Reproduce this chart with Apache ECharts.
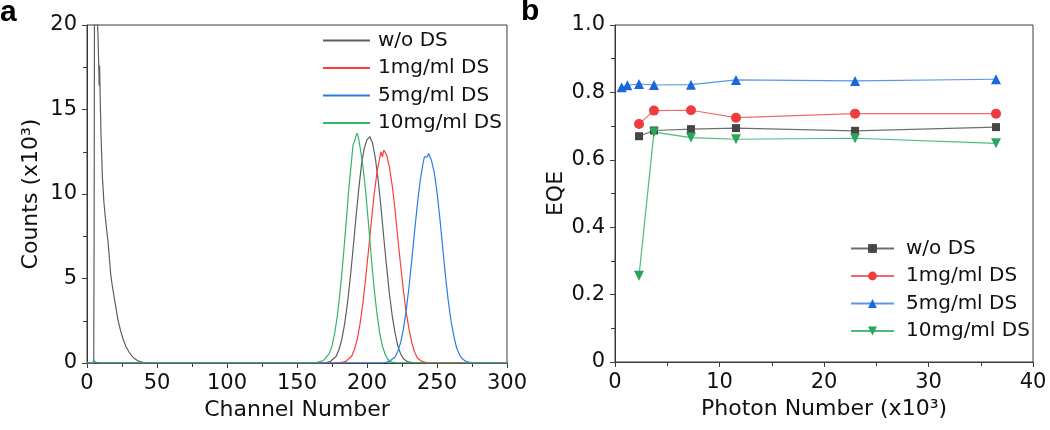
<!DOCTYPE html>
<html>
<head>
<meta charset="utf-8">
<script src="https://cdn.jsdelivr.net/npm/echarts@6/dist/echarts.min.js"></script>
<style>html,body{margin:0;padding:0;background:#fff;}#c{width:1050px;height:430px;}</style>
</head>
<body>
<div id="c"></div>
<script>
// ---------- Panel a: pulse height spectra (counts in x10^3) ----------
const seriesNames = ['w/o DS', '1mg/ml DS', '5mg/ml DS', '10mg/ml DS'];

const grayChannel = [0,4.8,5.1,5.4,6.8,7.8,8.4,8.7,9.0,9.4,10,11,12,13,14,15,16,17,18,20,22,24,26,28,30,32,34,36,38,40,44,48,
  170,174,178,180,182,184,186,188,190,192,194,196,198,200,202,204,206,208,210,212,214,216,218,220,222,224,226,229,234,300];
const grayCounts = [0,0,8,24,24,19.5,17.6,16.4,17.6,15.8,13.5,11.0,9.6,8.7,7.9,7.2,6.2,5.2,4.6,3.6,2.6,1.9,1.35,0.95,0.65,0.42,0.26,0.15,0.08,0.04,0.01,0,
  0,0.1,0.4,0.8,1.4,2.3,3.5,5.0,6.7,8.5,10.2,11.7,12.7,13.2,13.4,13.0,12.1,10.8,9.2,7.4,5.7,4.1,2.8,1.8,1.0,0.55,0.25,0.08,0,0];

const redChannel = [0,4,5,7,10,180,185,189,191,193,195,197,199,201,203,205,207,209,210,211,212,213,214,216,218,220,222,224,226,228,230,232,234,236,239,244,300];
const redCounts  = [0,0,0.1,0.03,0,0,0.1,0.4,0.8,1.4,2.3,3.5,5.0,6.6,8.3,9.9,11.2,12.1,12.5,12.2,12.6,12.7,12.3,11.6,10.5,9.1,7.4,5.8,4.3,3.0,2.0,1.2,0.65,0.3,0.1,0,0];

const blueChannel = [0,4,5,7,10,212,216,220,222,224,226,228,230,232,234,236,238,240,241,242,243,244,245,246,248,250,252,254,256,258,260,262,264,266,268,271,276,300];
const blueCounts  = [0,0,0.12,0.03,0,0,0.1,0.35,0.7,1.2,2.0,3.1,4.5,6.1,7.8,9.4,10.8,11.8,12.2,12.3,12.2,12.4,12.3,12.0,11.3,10.1,8.6,6.9,5.2,3.7,2.5,1.6,0.9,0.5,0.25,0.08,0,0];

const greenChannel = [0,4,5,7,10,160,165,169,173,175,177,179,181,183,185,187,189,190,191,192,193,194,195,197,199,201,203,205,207,209,211,213,215,218,222,300];
const greenCounts  = [0,0,0.1,0.03,0,0,0.05,0.15,0.55,1.0,1.8,2.9,4.4,6.2,8.2,10.3,12.0,12.9,13.1,13.4,13.6,13.3,12.8,11.7,10.2,8.3,6.3,4.5,3.0,1.8,1.0,0.5,0.2,0.05,0,0];

// ---------- Panel b: EQE vs photon number (x10^3) ----------
const grayPhoton  = [2.3, 3.73, 7.27, 11.58, 22.97, 36.46];
const grayEQE     = [0.670, 0.687, 0.691, 0.694, 0.686, 0.697];
const redPhoton   = [2.3, 3.73, 7.27, 11.58, 22.97, 36.46];
const redEQE      = [0.706, 0.746, 0.747, 0.725, 0.737, 0.737];
const bluePhoton  = [0.64, 1.18, 2.3, 3.73, 7.27, 11.58, 22.97, 36.46];
const blueEQE     = [0.815, 0.821, 0.825, 0.822, 0.823, 0.837, 0.834, 0.839];
const greenPhoton = [2.3, 3.73, 7.27, 11.58, 22.97, 36.46];
const greenEQE    = [0.256, 0.682, 0.666, 0.661, 0.664, 0.649];

// ---------- build ----------
const zip = (xs, ys) => xs.map((x, i) => [x, ys[i]]);
const FONT = '"DejaVu Sans", "Liberation Sans", Arial, sans-serif';
const axisCol = '#3a3a3a';

const specColors = ['#5e5e5e', '#ff3c3c', '#2d7ce6', '#35b36b'];
const lineColorsB = ['#6e6e6e', '#f26a6a', '#5b95ea', '#4dbb7b'];
const markColorsB = ['#454545', '#f03c3c', '#1a66dd', '#2aa55a'];
const symbolsB = ['rect', 'circle', 'triangle', 'triangle'];
const symSizeB = [8, 10, 10, 10];
const symRotB = [0, 0, 0, 180];

const specData = [zip(grayChannel, grayCounts), zip(redChannel, redCounts), zip(blueChannel, blueCounts), zip(greenChannel, greenCounts)];
const eqeData = [zip(grayPhoton, grayEQE), zip(redPhoton, redEQE), zip(bluePhoton, blueEQE), zip(greenPhoton, greenEQE)];
const namesB = seriesNames.map(n => n + ' ');

function valueAxis(gi, min, max, interval, fmt, extra) {
  return Object.assign({
    type: 'value', gridIndex: gi, min, max, interval,
    axisLine: { show: true, onZero: false, lineStyle: { color: axisCol, width: 1 } },
    axisTick: { show: true, inside: false, length: 5, lineStyle: { color: axisCol } },
    minorTick: { show: true, splitNumber: 2, length: 4, lineStyle: { color: axisCol } },
    splitLine: { show: false },
    axisLabel: { color: '#111', fontSize: 21, fontFamily: FONT, formatter: fmt, margin: 10 },
    nameTextStyle: { color: '#111', fontSize: 22, fontFamily: FONT },
    nameLocation: 'middle'
  }, extra);
}

const series = [];
specData.forEach((d, i) => series.push({
  type: 'line', name: seriesNames[i], xAxisIndex: 0, yAxisIndex: 0, data: d,
  showSymbol: false, symbol: 'none', clip: true, animation: false,
  lineStyle: { color: specColors[i], width: 1.2 }, itemStyle: { color: specColors[i] }
}));
eqeData.forEach((d, i) => series.push({
  type: 'line', name: namesB[i], xAxisIndex: 1, yAxisIndex: 1, data: d,
  symbol: symbolsB[i], symbolSize: symSizeB[i], symbolRotate: symRotB[i], animation: false,
  lineStyle: { color: lineColorsB[i], width: 1.2 }, itemStyle: { color: markColorsB[i] }
}));

const option = {
  backgroundColor: '#fff',
  animation: false,
  textStyle: { fontFamily: FONT },
  title: [
    { text: 'a', left: 0, top: -2, padding: 0, textStyle: { fontSize: 30, fontWeight: 'bold', color: '#000', fontFamily: '"Liberation Sans", Arial, sans-serif' } },
    { text: 'b', left: 521, top: -3, padding: 0, textStyle: { fontSize: 30, fontWeight: 'bold', color: '#000', fontFamily: '"Liberation Sans", Arial, sans-serif' } }
  ],
  grid: [
    { left: 87, top: 25, width: 420, height: 338, show: true, borderColor: axisCol, borderWidth: 1, backgroundColor: 'transparent' },
    { left: 615, top: 25, width: 418, height: 337, show: true, borderColor: axisCol, borderWidth: 1, backgroundColor: 'transparent' }
  ],
  xAxis: [
    valueAxis(0, 0, 300, 50, v => String(v), { name: 'Channel Number', nameGap: 35 }),
    valueAxis(1, 0, 40, 10, v => String(v), { name: 'Photon Number (x10³)', nameGap: 35 })
  ],
  yAxis: [
    valueAxis(0, 0, 20, 5, v => String(v), { name: 'Counts (x10³)', nameGap: 45 }),
    valueAxis(1, 0, 1, 0.2, v => (v === 0 ? '0' : v.toFixed(1)), { name: 'EQE', nameGap: 39 })
  ],
  legend: [
    {
      data: seriesNames, orient: 'vertical', left: 318, top: 25,
      itemWidth: 47, itemHeight: 2, itemGap: 6.5, icon: 'rect',
      textStyle: { fontSize: 20, color: '#111', fontFamily: FONT, lineHeight: 21, padding: [0, 0, 0, 3] },
      selectedMode: false
    },
    {
      data: namesB, orient: 'vertical', left: 845, top: 233,
      itemWidth: 43, itemHeight: 11, itemGap: 6.5,
      textStyle: { fontSize: 20, color: '#111', fontFamily: FONT, lineHeight: 21, padding: [0, 0, 0, 7] },
      selectedMode: false
    }
  ],
  series
};

const chart = echarts.init(document.getElementById('c'), null, { renderer: 'canvas' });
chart.setOption(option);
</script>
</body>
</html>
